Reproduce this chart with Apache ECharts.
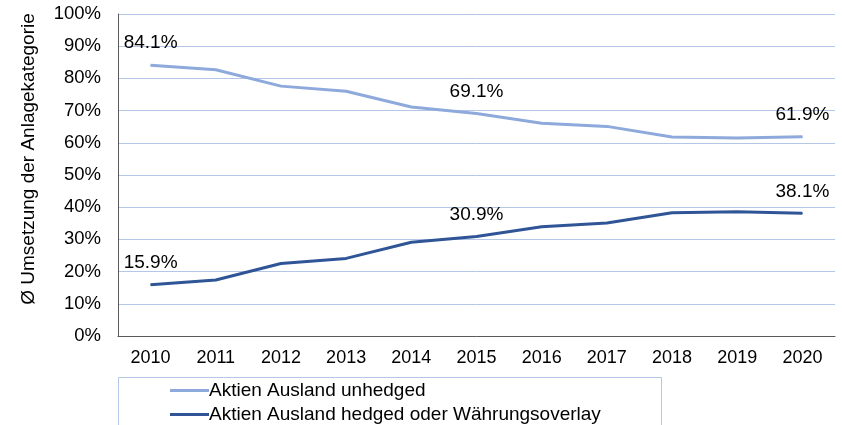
<!DOCTYPE html>
<html><head><meta charset="utf-8">
<script src="https://cdn.jsdelivr.net/npm/echarts@6/dist/echarts.min.js"></script>
<style>html,body{margin:0;padding:0;background:#fff}#c{width:842px;height:425px}</style>
</head><body><div id="c"></div>
<script>
const years = ['2010','2011','2012','2013','2014','2015','2016','2017','2018','2019','2020'];
const unhedged = [84.1, 82.7, 77.6, 76.0, 71.1, 69.1, 66.1, 65.1, 61.8, 61.5, 61.9];
const hedged = [15.9, 17.4, 22.5, 24.1, 29.1, 30.9, 33.9, 35.1, 38.3, 38.6, 38.1];
const seriesNames = ['Aktien Ausland unhedged', 'Aktien Ausland hedged oder Währungsoverlay'];
const labeledIdx = [0, 5, 10];
const yAxisName = 'Ø Umsetzung der Anlagekategorie';

const font = 'Liberation Sans, Arial, sans-serif';
const colors = ['#8EA9DB', '#2F5597'];
const chart = echarts.init(document.getElementById('c'));
function labelFmt(p){ return labeledIdx.includes(p.dataIndex) ? Number(p.value).toFixed(1) + '%' : ''; }
function legendCfg(i, top){
  return {
    orient: 'vertical', left: 165, top: top,
    itemWidth: 39, itemHeight: 3, icon: 'rect',
    textStyle: {color: '#000', fontSize: 19, fontFamily: font, padding: [0,0,0,-5]},
    data: [seriesNames[i]]
  };
}
function makeSeries(i, data){
  return {
    name: seriesNames[i], type: 'line', data: data,
    symbol: 'circle', symbolSize: 1, showSymbol: true,
    lineStyle: {color: colors[i], width: 3}, itemStyle: {color: colors[i]},
    label: {show: true, position: 'top', distance: 12, formatter: labelFmt,
            color: '#000', fontSize: 19, fontFamily: font}
  };
}
chart.setOption({
  animation: false,
  grid: {left: 118, right: 7, top: 14, bottom: 89, containLabel: false},
  xAxis: {
    type: 'category', data: years, boundaryGap: true,
    axisLine: {lineStyle: {color: '#595959', width: 1}},
    axisTick: {show: false},
    axisLabel: {color: '#000', fontSize: 18, fontFamily: font, margin: 13}
  },
  yAxis: {
    type: 'value', min: 0, max: 100, interval: 10,
    name: yAxisName, nameLocation: 'middle', nameGap: 80, nameRotate: 90,
    nameTextStyle: {color: '#000', fontSize: 19, fontFamily: font, padding: [0,0,0,32]},
    axisLine: {show: true, lineStyle: {color: '#595959', width: 1}},
    axisTick: {show: false},
    axisLabel: {color: '#000', fontSize: 18.5, fontFamily: font, margin: 17, formatter: '{value}%'},
    splitLine: {lineStyle: {color: '#B4C7E7', width: 1}}
  },
  legend: [legendCfg(0, 376), legendCfg(1, 400)],
  graphic: [{
    type: 'rect', left: 116, top: 375, z: 0,
    shape: {width: 543, height: 60},
    style: {fill: 'none', stroke: '#B4C7E7', lineWidth: 1}
  }],
  series: [makeSeries(0, unhedged), makeSeries(1, hedged)]
});
</script></body></html>
